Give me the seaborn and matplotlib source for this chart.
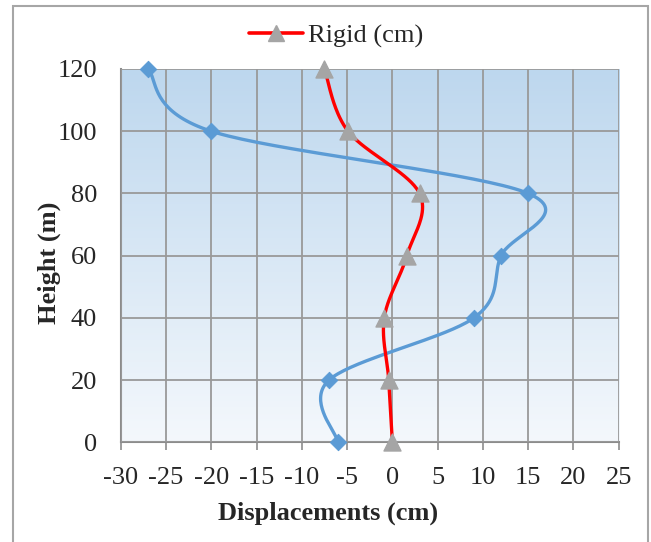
import numpy as np
import matplotlib
matplotlib.use("Agg")
import matplotlib.pyplot as plt
from matplotlib.colors import LinearSegmentedColormap
from matplotlib.lines import Line2D
from matplotlib.patches import Rectangle
import seaborn as sns

# data
heights = [0, 20, 40, 60, 80, 100, 120]
rigid_disp = [0.0, -0.4, -0.9, 1.6, 3.0, -4.9, -7.5]
other_disp = [-6.0, -7.0, 9.0, 12.0, 15.0, -20.0, -27.0]
x_ticks = list(range(-30, 30, 5))
y_ticks = list(range(0, 140, 20))


def smooth_curve(xs, ys, sx, sy, n=40):
    """Excel-like smoothed line (Catmull-Rom bezier) computed in pixel-like space."""
    p = np.column_stack([np.asarray(xs) * sx, np.asarray(ys) * sy])
    p = np.vstack([p[0], p, p[-1]])
    out = []
    for i in range(1, len(p) - 2):
        p0, p1, p2, p3 = p[i - 1], p[i], p[i + 1], p[i + 2]
        c1 = p1 + (p2 - p0) / 6.0
        c2 = p2 - (p3 - p1) / 6.0
        t = np.linspace(0, 1, n)[:, None]
        seg = ((1 - t) ** 3) * p1 + 3 * ((1 - t) ** 2) * t * c1 + 3 * (1 - t) * t ** 2 * c2 + t ** 3 * p2
        out.append(seg if i == 1 else seg[1:])
    out = np.vstack(out)
    return out[:, 0] / sx, out[:, 1] / sy


sns.set_style("white")
plt.rcParams["font.family"] = ["Liberation Serif", "DejaVu Serif"]
plt.rcParams["axes.unicode_minus"] = False

fig = plt.figure(figsize=(6.51, 5.42), dpi=100)
ax = fig.add_axes([0.1854, 0.1839, 0.7651, 0.6888])

# gradient background of the plot area
cmap = LinearSegmentedColormap.from_list("bg", ["#f4f8fc", "#bdd7ee"])
grad = np.linspace(0, 1, 256)[:, None]
ax.imshow(grad, cmap=cmap, aspect="auto", extent=[0, 1, 0, 1],
          transform=ax.transAxes, origin="lower", zorder=0)

# pixel scale of each axis, so the smoothing follows the drawn shape
sx = 498.0 / 55.0
sy = 373.0 / 120.0

bx, by = smooth_curve(other_disp, heights, sx, sy)
rx, ry = smooth_curve(rigid_disp, heights, sx, sy)

sns.lineplot(x=bx, y=by, sort=False, estimator=None, color="#5b9bd5",
             linewidth=2.4, ax=ax, zorder=3)
sns.scatterplot(x=other_disp, y=heights, marker="D", s=70, color="#5b9bd5",
                edgecolor="#5b9bd5", ax=ax, zorder=4, clip_on=False)
sns.lineplot(x=rx, y=ry, sort=False, estimator=None, color="#ff0000",
             linewidth=2.4, ax=ax, zorder=5)
sns.scatterplot(x=rigid_disp, y=heights, marker="^", s=150, color="#a5a5a5",
                edgecolor="#a5a5a5", ax=ax, zorder=6, clip_on=False)

ax.set_xlim(-30, 25)
ax.set_ylim(0, 120)
ax.set_xticks(x_ticks)
ax.set_yticks(y_ticks)
ax.grid(True, color="#999999", linewidth=1.3, zorder=1)
ax.set_axisbelow(False)
for gl in ax.get_xgridlines() + ax.get_ygridlines():
    gl.set_zorder(1)
for side in ["top", "right"]:
    ax.spines[side].set_visible(False)
for side in ["left", "bottom"]:
    ax.spines[side].set_color("#8c8c8c")
    ax.spines[side].set_linewidth(1.5)
    ax.spines[side].set_zorder(2)

ax.tick_params(axis="x", which="both", direction="out", length=6, width=1.2,
               color="#8c8c8c", labelsize=19, pad=11.5, bottom=True)
ax.tick_params(axis="y", which="both", length=0, labelsize=19, pad=17, left=False)

ax.set_xlabel("Displacements (cm)", fontsize=19, fontweight="bold")
ax.set_ylabel("Height (m)", fontsize=19, fontweight="bold")
ax.xaxis.set_label_coords((328 - 120.7) / 498.1, -(502 - 442.3) / 373.3)
ax.yaxis.set_label_coords(-(120.7 - 61) / 498.1, (442.3 - 263) / 373.3)

handle = Line2D([], [], color="#ff0000", linewidth=2.6, marker="^", markersize=12,
                markerfacecolor="#a5a5a5", markeredgecolor="#a5a5a5")
fig.legend(handles=[handle], labels=["Rigid (cm)"], loc="center",
           bbox_to_anchor=(336 / 651, 1 - 36 / 542), frameon=False,
           fontsize=19, handlelength=2.05, handletextpad=0.2)

# outer chart border
fig.patches.append(Rectangle((13 / 651, -0.1), (648 - 13) / 651, 1.1 - 6 / 542,
                             transform=fig.transFigure, fill=False,
                             edgecolor="#a6a6a6", linewidth=1.5))

fig.savefig("out.png", dpi=100)
